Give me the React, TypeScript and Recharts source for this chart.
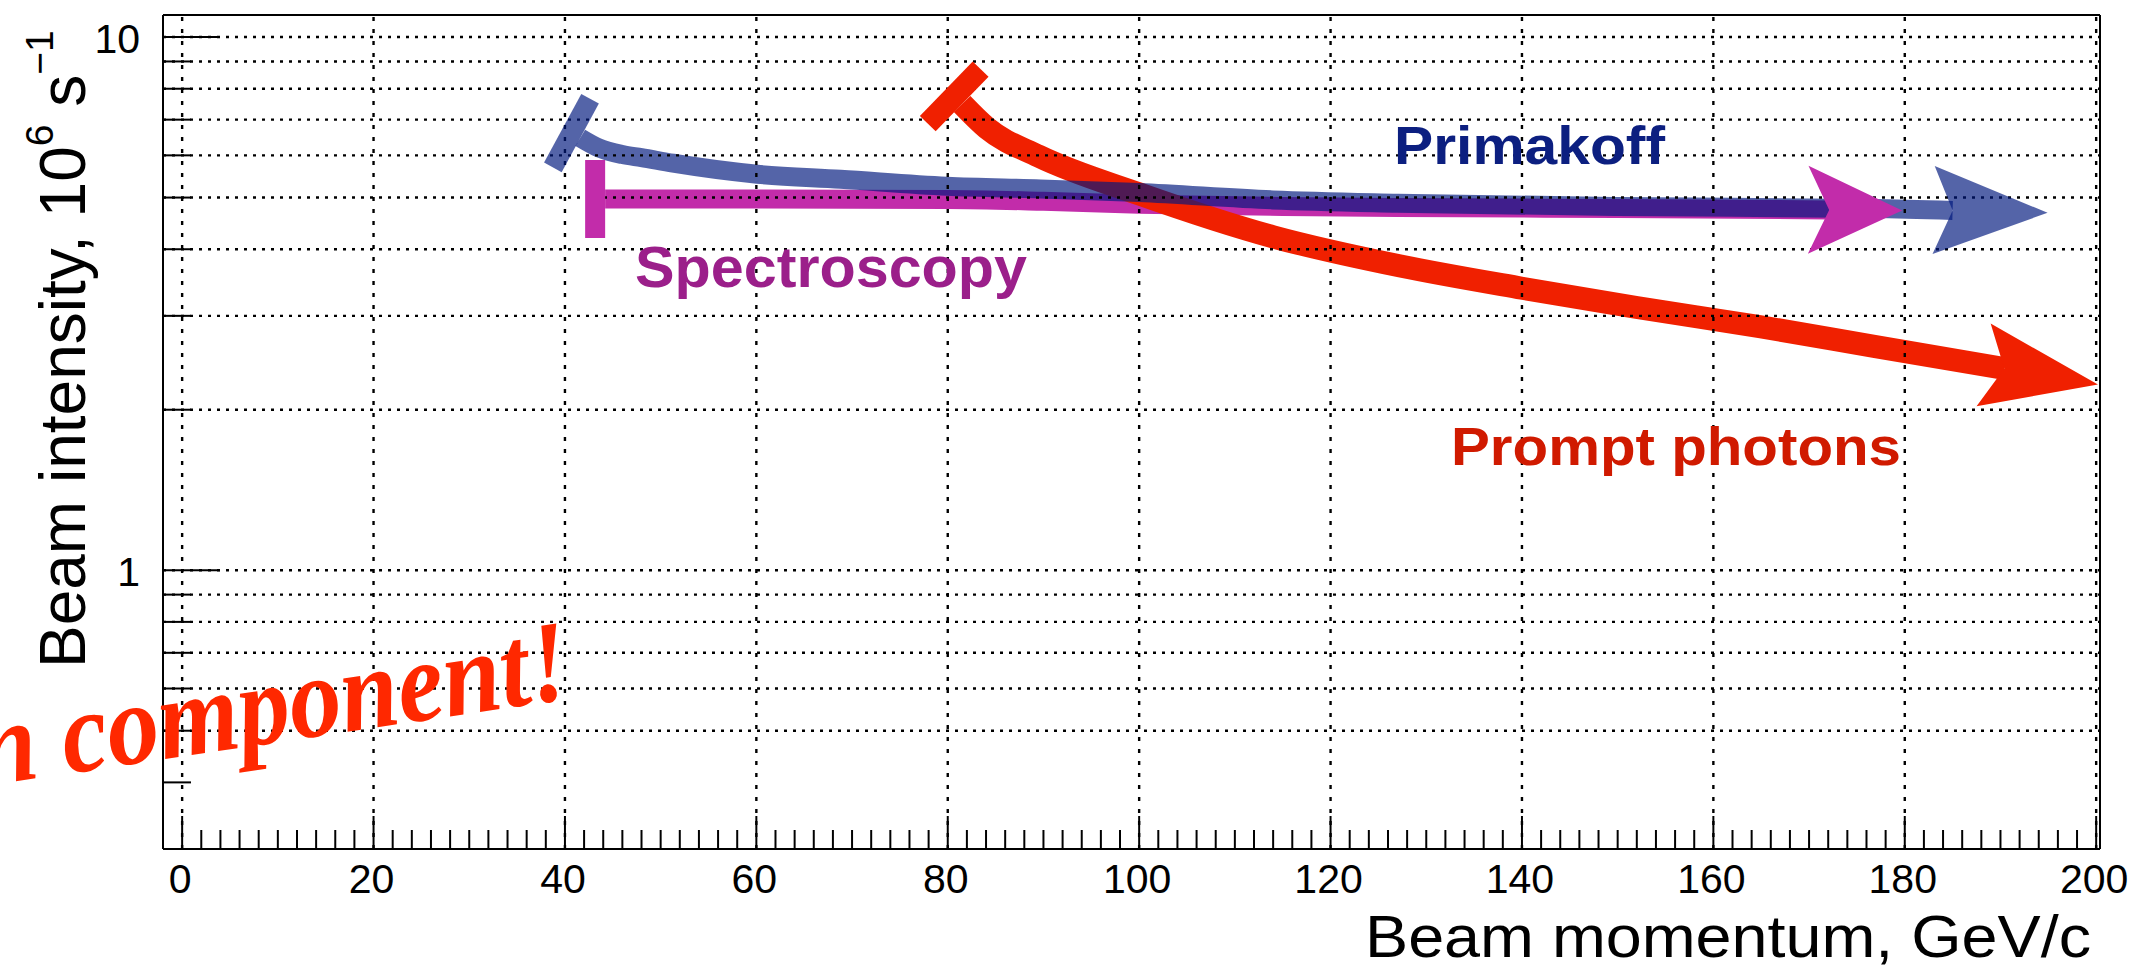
import React from "react";
import { LineChart, Line, XAxis, YAxis, ReferenceLine } from "recharts";

const W = 2143;
const H = 974;
const FONT = "'Liberation Sans', Arial, Helvetica, sans-serif";

// Primakoff arrow (blue), momentum GeV/c vs intensity 10^6/s
const primakoffX = [41.6, 43.5, 46, 48, 51.3, 60.1, 68.8, 79.9, 89.7, 100, 114, 127, 150, 176.8, 185];
const primakoffY = [6.47, 6.2, 6.02, 5.94, 5.8, 5.53, 5.41, 5.25, 5.19, 5.11, 4.95, 4.88, 4.81, 4.77, 4.73];

// Spectroscopy arrow (magenta)
const spectroX = [44.2, 60, 80, 90, 100, 115, 127, 150, 172.1];
const spectroY = [4.97, 4.97, 4.96, 4.92, 4.86, 4.81, 4.79, 4.77, 4.74];

// Prompt photons arrow (red)
const promptX = [81.5, 84.1, 89.5, 100, 114, 127.3, 140, 152, 165, 176.8, 190.4];
const promptY = [7.49, 6.75, 5.98, 5.08, 4.22, 3.72, 3.38, 3.11, 2.86, 2.63, 2.39];

const xMajorTicks = [0, 20, 40, 60, 80, 100, 120, 140, 160, 180, 200];
const xMinorStep = 2;
const yLabelTicks = [1, 10];
const yMinorTicks = [0.4, 0.5, 0.6, 0.7, 0.8, 0.9, 2, 3, 4, 5, 6, 7, 8, 9];
const yGridValues = [0.5, 0.6, 0.7, 0.8, 0.9, 1, 2, 3, 4, 5, 6, 7, 8, 9, 10];

const X_DOMAIN: [number, number] = [-2, 200.4];
const Y_DOMAIN: [number, number] = [0.3, 11];

const toRows = (xs: number[], ys: number[]) => xs.map((x, i) => ({ x, y: ys[i] }));
const primakoffData = toRows(primakoffX, primakoffY);
const spectroData = toRows(spectroX, spectroY);
const promptData = toRows(promptX, promptY);

const xTicks: number[] = [];
for (let v = 0; v <= 200; v += xMinorStep) xTicks.push(v);
const yTicks = [...yMinorTicks, ...yLabelTicks].sort((a, b) => a - b);

type EndStyle = {
  color: string;
  opacity: number;
  head: { a: number; b: number; h: number };
  bar: { len: number; thick: number };
};

// draws the T bar on the first point and the arrow head on the last one
function makeEnds(style: EndStyle) {
  return (props: any) => {
    const { cx, cy, index, points } = props;
    const key = `end-${index}`;
    if (!points || cx == null || cy == null) return <g key={key} />;
    const n = points.length;
    if (index === n - 1) {
      const p = points[n - 2];
      let dx = cx - p.x;
      let dy = cy - p.y;
      const l = Math.hypot(dx, dy) || 1;
      dx /= l;
      dy /= l;
      const px = -dy;
      const py = dx;
      const { a, b, h } = style.head;
      const tip = `${cx + dx * a},${cy + dy * a}`;
      const c1 = `${cx - dx * b + px * h},${cy - dy * b + py * h}`;
      const c2 = `${cx - dx * b - px * h},${cy - dy * b - py * h}`;
      return (
        <polygon
          key={key}
          points={`${tip} ${c1} ${cx},${cy} ${c2}`}
          fill={style.color}
          fillOpacity={style.opacity}
        />
      );
    }
    if (index === 0) {
      const q = points[1];
      let dx = q.x - cx;
      let dy = q.y - cy;
      const l = Math.hypot(dx, dy) || 1;
      dx /= l;
      dy /= l;
      const px = -dy;
      const py = dx;
      const { len, thick } = style.bar;
      const mx = cx - (dx * thick) / 2;
      const my = cy - (dy * thick) / 2;
      const hl = len / 2;
      const ht = thick / 2;
      const pts = [
        [mx + px * hl + dx * ht, my + py * hl + dy * ht],
        [mx + px * hl - dx * ht, my + py * hl - dy * ht],
        [mx - px * hl - dx * ht, my - py * hl - dy * ht],
        [mx - px * hl + dx * ht, my - py * hl + dy * ht],
      ]
        .map((c) => c.join(","))
        .join(" ");
      return <polygon key={key} points={pts} fill={style.color} fillOpacity={style.opacity} />;
    }
    return <g key={key} />;
  };
}

const BLUE = "rgb(0,24,125)";
const BLUE_ALPHA = 0.67;
const MAGENTA = "#c22caa";
const RED = "#f02000";

const primakoffEnds = makeEnds({ color: BLUE, opacity: BLUE_ALPHA, head: { a: 95, b: 19, h: 44 }, bar: { len: 78, thick: 20 } });
const spectroEnds = makeEnds({ color: MAGENTA, opacity: 1, head: { a: 73, b: 21, h: 44 }, bar: { len: 78, thick: 20 } });
const promptEnds = makeEnds({ color: RED, opacity: 1, head: { a: 95, b: 21, h: 42 }, bar: { len: 76, thick: 22 } });

function XTick(props: any) {
  const { x, y, payload } = props;
  const v = payload.value;
  const major = xMajorTicks.includes(v);
  return (
    <g>
      <line x1={x} x2={x} y1={y} y2={y - (major ? 33 : 19)} stroke="#000" strokeWidth={2} />
      {major && (
        <text x={x - 2} y={y + 44} textAnchor="middle" fontSize={41} fontFamily={FONT} fill="#000">
          {v}
        </text>
      )}
    </g>
  );
}

function YTick(props: any) {
  const { x, y, payload } = props;
  const v = payload.value;
  const major = yLabelTicks.includes(v);
  return (
    <g>
      <line x1={x} x2={x + (major ? 57 : 28)} y1={y} y2={y} stroke="#000" strokeWidth={2} />
      {major && (
        <text x={x - 23} y={y + 16} textAnchor="end" fontSize={41} fontFamily={FONT} fill="#000">
          {v}
        </text>
      )}
    </g>
  );
}

export default function App() {
  return (
    <div style={{ position: "relative", width: W, height: H, background: "#fff", overflow: "hidden" }}>
      <style>{`body{margin:0;} .primakoff-series path{stroke-opacity:${BLUE_ALPHA};}`}</style>
      <LineChart width={W} height={H} margin={{ top: 15, right: 43, bottom: 0, left: 0 }}>
        <XAxis
          type="number"
          dataKey="x"
          domain={X_DOMAIN}
          allowDataOverflow
          ticks={xTicks}
          interval={0}
          tickSize={0}
          tickMargin={0}
          tickLine={false}
          axisLine={{ stroke: "#000", strokeWidth: 2 }}
          height={125}
          tick={(p: any) => <XTick {...p} />}
        />
        <YAxis
          type="number"
          scale="log"
          domain={Y_DOMAIN}
          allowDataOverflow
          ticks={yTicks}
          interval={0}
          tickSize={0}
          tickMargin={0}
          tickLine={false}
          axisLine={{ stroke: "#000", strokeWidth: 2 }}
          width={163}
          tick={(p: any) => <YTick {...p} />}
        />
        <Line
          data={spectroData}
          dataKey="y"
          type="monotone"
          stroke={MAGENTA}
          strokeWidth={19}
          dot={spectroEnds}
          activeDot={false}
          isAnimationActive={false}
        />
        <Line
          data={promptData}
          dataKey="y"
          type="monotone"
          stroke={RED}
          strokeWidth={23}
          dot={promptEnds}
          activeDot={false}
          isAnimationActive={false}
        />
        <Line
          className="primakoff-series"
          data={primakoffData}
          dataKey="y"
          type="monotone"
          stroke={BLUE}
          strokeWidth={19}
          dot={primakoffEnds}
          activeDot={false}
          isAnimationActive={false}
        />
        {yGridValues.map((v) => (
          <ReferenceLine key={`gy-${v}`} y={v} stroke="#000" strokeWidth={2.4} strokeDasharray="3 6" />
        ))}
        {xMajorTicks.map((v) => (
          <ReferenceLine key={`gx-${v}`} x={v} stroke="#000" strokeWidth={2.4} strokeDasharray="4 8" />
        ))}
        <ReferenceLine y={Y_DOMAIN[1]} stroke="#000" strokeWidth={2} />
        <ReferenceLine x={X_DOMAIN[1]} stroke="#000" strokeWidth={2} />
      </LineChart>
      <svg
        width={W}
        height={H}
        style={{ position: "absolute", left: 0, top: 0, pointerEvents: "none" }}
      >
        <text x={1394} y={164} fontSize={54} fontWeight={700} fontFamily={FONT} fill="#0c1f80" textLength={271} lengthAdjust="spacingAndGlyphs">
          Primakoff
        </text>
        <text x={635} y={287} fontSize={57} fontWeight={700} fontFamily={FONT} fill="#9b1f8a" textLength={392} lengthAdjust="spacingAndGlyphs">
          Spectroscopy
        </text>
        <text x={1451} y={465} fontSize={54} fontWeight={700} fontFamily={FONT} fill="#d01a00" textLength={450} lengthAdjust="spacingAndGlyphs">
          Prompt photons
        </text>
        <text x={1365} y={957} fontSize={60} fontFamily={FONT} fill="#000" textLength={726} lengthAdjust="spacingAndGlyphs">
          Beam momentum, GeV/c
        </text>
        <text transform="rotate(-90)" x={-668} y={85} fontSize={64} fontFamily={FONT} fill="#000">
          Beam intensity, 10
          <tspan dy={-32} fontSize={39}>6</tspan>
          <tspan dy={32} fontSize={64}> s</tspan>
          <tspan dy={-32} fontSize={39}>−1</tspan>
        </text>
        <text
          x={-16}
          y={786}
          transform="rotate(-8.5 -16 786)"
          fontSize={116}
          fontStyle="italic"
          fontWeight={700}
          fontFamily="'Liberation Serif', 'DejaVu Serif', serif"
          fill="#ff2800"
          textLength={596}
          lengthAdjust="spacingAndGlyphs"
        >
          n component!
        </text>
      </svg>
    </div>
  );
}
